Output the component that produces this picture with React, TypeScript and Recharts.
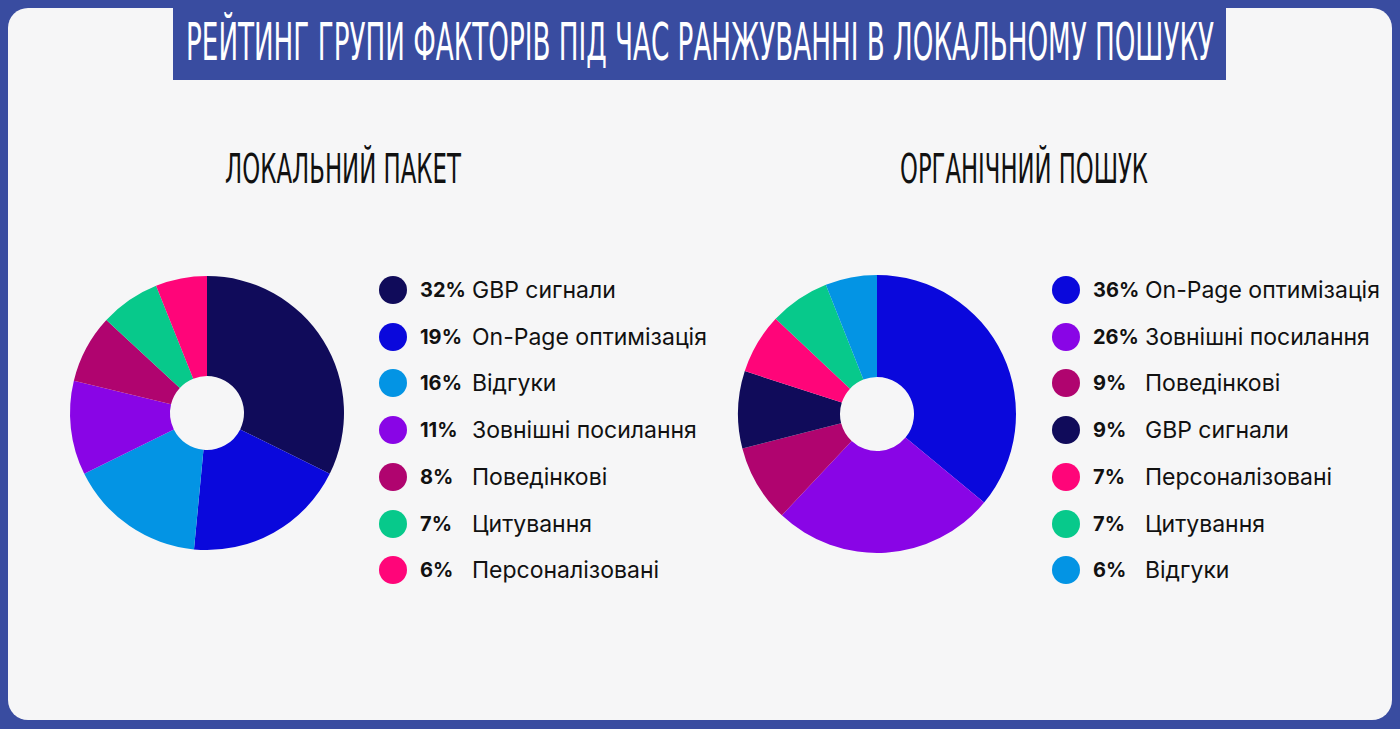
import { PieChart, Pie, Cell } from 'recharts'

const title = 'РЕЙТИНГ ГРУПИ ФАКТОРІВ ПІД ЧАС РАНЖУВАННІ В ЛОКАЛЬНОМУ ПОШУКУ'
const localTitle = 'ЛОКАЛЬНИЙ ПАКЕТ'
const organicTitle = 'ОРГАНІЧНИЙ ПОШУК'

const localNames = ['GBP сигнали', 'On-Page оптимізація', 'Відгуки', 'Зовнішні посилання', 'Поведінкові', 'Цитування', 'Персоналізовані']
const localValues = [32, 19, 16, 11, 8, 7, 6]

const organicNames = ['On-Page оптимізація', 'Зовнішні посилання', 'Поведінкові', 'GBP сигнали', 'Персоналізовані', 'Цитування', 'Відгуки']
const organicValues = [36, 26, 9, 9, 7, 7, 6]

const factorColors: Record<string, string> = {
    'GBP сигнали': '#100b5a',
    'On-Page оптимізація': '#0a08dc',
    'Відгуки': '#0394e4',
    'Зовнішні посилання': '#8905e6',
    'Поведінкові': '#b0046f',
    'Цитування': '#07c98b',
    'Персоналізовані': '#ff0579',
}

const BORDER = '#394ca0'
const PANEL = '#f6f6f7'
const CONDENSED = '"DejaVu Sans Condensed", "DejaVu Sans"'

const localData = localNames.map((name, i) => ({ name, value: localValues[i] }))
const organicData = organicNames.map((name, i) => ({ name, value: organicValues[i] }))

const ROW_Y = 290
const ROW_STEP = 46.7

interface ILegend {
    data: { name: string, value: number }[]
    dotX: number
    pctX: number
    labelX: number
}

const FactorLegend = ({ data, dotX, pctX, labelX }: ILegend) => {
    return (
        <>
            {data.map((d, i) => {
                const y = ROW_Y + i * ROW_STEP
                return (
                    <div key={d.name}>
                        <div style={{
                            position: 'absolute', left: dotX - 14, top: y - 14,
                            width: 28, height: 28, borderRadius: 14,
                            background: factorColors[d.name],
                        }} />
                        <div style={{
                            position: 'absolute', left: pctX, top: y - 14, lineHeight: '28px',
                            fontFamily: 'Inter', fontWeight: 700, fontSize: 20, color: '#111',
                        }}>{d.value}%</div>
                        <div style={{
                            position: 'absolute', left: labelX, top: y - 14, lineHeight: '28px',
                            fontFamily: 'Inter', fontWeight: 400, fontSize: 23, color: '#111',
                            whiteSpace: 'nowrap',
                        }}>{d.name}</div>
                    </div>
                )
            })}
        </>
    )
}

export default function App() {
    return (
        <div style={{ position: 'absolute', left: 0, top: 0, width: 1400, height: 729, background: BORDER, overflow: 'hidden' }}>
            <div style={{ position: 'absolute', left: 8, top: 8, width: 1384, height: 712, background: PANEL, borderRadius: 20 }} />
            <div style={{ position: 'absolute', left: 173, top: 0, width: 1053, height: 80, background: BORDER }} />

            <svg width={1400} height={200} style={{ position: 'absolute', left: 0, top: 0 }}>
                <text transform='translate(186,60) scale(1,1.7)' fill='#fff' fontSize={30}
                    fontFamily={CONDENSED}
                    textLength={1028} lengthAdjust='spacingAndGlyphs'>{title}</text>
                <text transform='translate(225,183) scale(1,1.6)' fill='#111' fontSize={26}
                    fontFamily={CONDENSED}
                    textLength={236} lengthAdjust='spacingAndGlyphs'>{localTitle}</text>
                <text transform='translate(900,183) scale(1,1.6)' fill='#111' fontSize={26}
                    fontFamily={CONDENSED}
                    textLength={248} lengthAdjust='spacingAndGlyphs'>{organicTitle}</text>
            </svg>

            <div style={{ position: 'absolute', left: 0, top: 0 }}>
                <PieChart width={1400} height={729} margin={{ top: 0, right: 0, bottom: 0, left: 0 }}>
                    <Pie
                        data={localData}
                        dataKey='value'
                        nameKey='name'
                        cx={207}
                        cy={413}
                        innerRadius={37}
                        outerRadius={137}
                        startAngle={90}
                        endAngle={-270}
                        stroke='none'
                        isAnimationActive={false}
                    >
                        {localData.map((d) => <Cell key={d.name} fill={factorColors[d.name]} />)}
                    </Pie>
                    <Pie
                        data={organicData}
                        dataKey='value'
                        nameKey='name'
                        cx={877}
                        cy={414}
                        innerRadius={37}
                        outerRadius={139}
                        startAngle={90}
                        endAngle={-270}
                        stroke='none'
                        isAnimationActive={false}
                    >
                        {organicData.map((d) => <Cell key={d.name} fill={factorColors[d.name]} />)}
                    </Pie>
                </PieChart>
            </div>

            <FactorLegend data={localData} dotX={393} pctX={420} labelX={472} />
            <FactorLegend data={organicData} dotX={1066} pctX={1093} labelX={1145} />
        </div>
    )
}
